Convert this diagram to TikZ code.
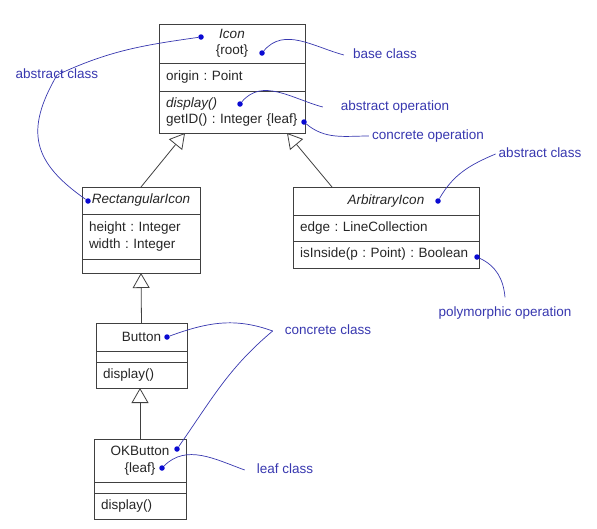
\documentclass[tikz,border=0pt]{standalone}
\usepackage{fontspec}
\setmainfont{Liberation Sans}
\usetikzlibrary{arrows.meta,positioning}
\frenchspacing

\definecolor{noteblue}{RGB}{55,55,175}
\definecolor{dotblue}{RGB}{10,10,210}
\newcommand{\umlfont}{\fontsize{13.5}{16.5}\selectfont}

\tikzset{
  classpart/.style={draw=black!75, line width=0.8pt, anchor=north west, inner xsep=7pt, inner ysep=0pt, outer sep=0pt, text=black!85, font=\umlfont},
  namepart/.style={classpart, align=center},
  attrpart/.style={classpart, align=left},
  genarrow/.style={draw=black!75, line width=0.8pt, -{Triangle[open, length=15pt, width=17pt]}},
  notedot/.style={circle, fill=dotblue, inner sep=0pt, minimum size=5.5pt},
  notetext/.style={text=noteblue, font=\umlfont, inner sep=3pt, text height=10pt, text depth=3pt},
  noteline/.style={draw=noteblue, line width=0.7pt},
}

\begin{document}
\begin{tikzpicture}[x=1pt, y=1pt]
    \useasboundingbox (0,0) rectangle (597,-528);

    % Icon
    \node[namepart, text width=132pt, minimum height=39pt] (iconname) at (159,-24) {\textit{Icon}\\\{root\}};
    \node[attrpart, text width=132pt, minimum height=28pt] (iconattr) at (iconname.south west) {origin : Point};
    \node[attrpart, text width=132pt, minimum height=42pt] (iconop) at (iconattr.south west) {\textit{display()}\\getID() : Integer \{leaf\}};

    % RectangularIcon
    \node[namepart, text width=104pt, minimum height=27pt] (rectname) at (82,-187) {\textit{RectangularIcon}};
    \node[attrpart, text width=104pt, minimum height=45pt] (rectattr) at (rectname.south west) {height : Integer\\width : Integer};
    \node[attrpart, text width=104pt, minimum height=14pt] (rectops) at (rectattr.south west) {};

    % ArbitraryIcon
    \node[namepart, text width=172pt, minimum height=28pt] (arbname) at (293,-187) {\textit{ArbitraryIcon}};
    \node[attrpart, text width=172pt, minimum height=26pt] (arbattr) at (arbname.south west) {edge : LineCollection};
    \node[attrpart, text width=172pt, minimum height=27pt] (arbops) at (arbattr.south west) {isInside(p : Point) : Boolean};

    % Button
    \node[namepart, text width=77pt, minimum height=28pt] (btnname) at (96,-323) {Button};
    \node[attrpart, text width=77pt, minimum height=11pt] (btnattr) at (btnname.south west) {};
    \node[attrpart, text width=77pt, minimum height=26pt] (btnops) at (btnattr.south west) {display()};

    % OKButton
    \node[namepart, text width=78pt, minimum height=43pt] (okname) at (94,-439) {OKButton\\\{leaf\}};
    \node[attrpart, text width=78pt, minimum height=11pt] (okattr) at (okname.south west) {};
    \node[attrpart, text width=78pt, minimum height=26pt] (okops) at (okattr.south west) {display()};

    % generalizations
    \draw[genarrow] (rectname.north) -- ([xshift=26pt]iconop.south west);
    \draw[genarrow] ([xshift=39pt]arbname.north west) -- ([xshift=128pt]iconop.south west);
    \draw[genarrow] (btnname.north) -- (rectops.south);
    \draw[genarrow] (okname.north) -- (okname.north |- btnops.south);

    % notes
    \node[notedot] (icondot) at (201,-37) {};
    \node[notedot] (rootdot) at (262,-53) {};
    \node[notedot] (dispdot) at (240,-104) {};
    \node[notedot] (getdot) at (304,-122) {};
    \node[notedot] (rectdot) at (88,-201) {};
    \node[notedot] (arbdot) at (438,-201) {};
    \node[notedot] (booldot) at (477,-257) {};
    \node[notedot] (btndot) at (167,-337) {};
    \node[notedot] (okdot) at (177,-449) {};
    \node[notedot] (leafdot) at (162,-468) {};

    \node[notetext] (basecls) at (385,-55) {base class};
    \node[notetext] (absop) at (395,-107) {abstract operation};
    \node[notetext] (concop) at (428,-136) {concrete operation};
    \node[notetext] (absleft) at (57,-75) {abstract class};
    \node[notetext] (absright) at (540,-154) {abstract class};
    \node[notetext] (polyop) at (505,-313) {polymorphic operation};
    \node[notetext] (concls) at (328,-331) {concrete class};
    \node[notetext] (leafcls) at (285,-470) {leaf class};
    \coordinate (cjoin) at ([xshift=-9pt]concls.west);

    \draw[noteline] (icondot) to[out=188, in=25] (absleft.center) to[out=240, in=145, looseness=1.3] (rectdot);
    \draw[noteline] (rootdot) to[out=50, in=165] ([xshift=-6pt]basecls.west);
    \draw[noteline] (dispdot) to[out=50, in=165] ([xshift=-15pt]absop.west);
    \draw[noteline] (getdot) to[out=-40, in=180] (concop.west);
    \draw[noteline] (arbdot) to[out=60, in=203] (absright.west);
    \draw[noteline] (booldot) to[out=-25, in=95] ([yshift=6pt]polyop.north);
    \draw[noteline] (btndot) to[out=20, in=160] (cjoin);
    \draw[noteline] (okdot) to[out=55, in=220] (cjoin);
    \draw[noteline] (leafdot) to[out=45, in=160] ([xshift=-9pt]leafcls.west);

\end{tikzpicture}
\end{document}
